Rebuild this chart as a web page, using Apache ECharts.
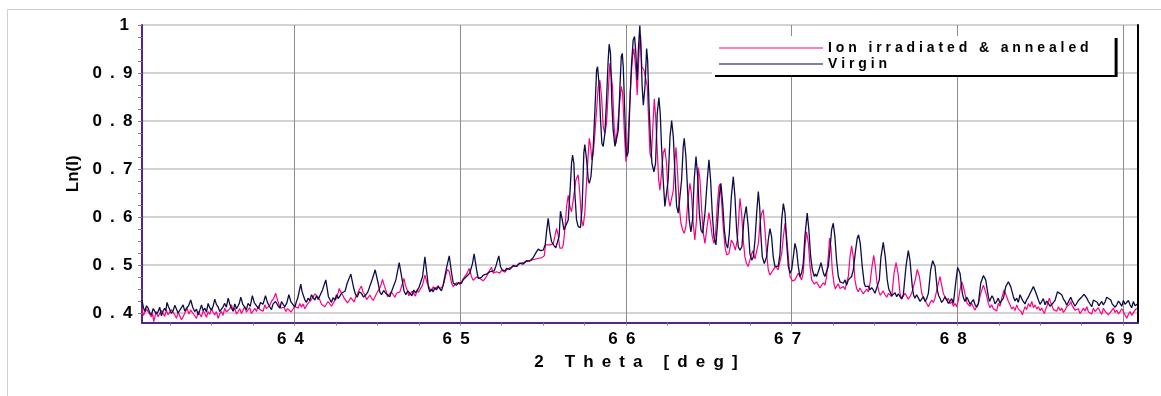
<!DOCTYPE html>
<html>
<head>
<meta charset="utf-8">
<script src="https://cdn.jsdelivr.net/npm/echarts@6/dist/echarts.min.js"></script>
<style>
html, body { margin: 0; padding: 0; background: #fff; }
#chart { width: 1161px; height: 396px; }
</style>
</head>
<body>
<div id="chart"></div>
<script>
const xTicks = [64, 65, 66, 67, 68, 69];
const yTicks = [0.4, 0.5, 0.6, 0.7, 0.8, 0.9, 1];
const xMinorTicks = [63.25, 63.5, 63.75, 64, 64.25, 64.5, 64.75, 65, 65.25, 65.5, 65.75, 66,
  66.25, 66.5, 66.75, 67, 67.25, 67.5, 67.75, 68, 68.25, 68.5, 68.75, 69];
const yMinorTicks = [0.4, 0.425, 0.45, 0.475, 0.5, 0.525, 0.55, 0.575, 0.6, 0.625, 0.65, 0.675,
  0.7, 0.725, 0.75, 0.775, 0.8, 0.825, 0.85, 0.875, 0.9, 0.925, 0.95, 0.975, 1];
const seriesNames = ["Ion irradiated & annealed", "Virgin"];

// [2 theta, Ln(I)]
const irradiated = [
  [63.080,0.410],[63.088,0.395],[63.097,0.399],[63.107,0.408],[63.117,0.403],[63.127,0.397],[63.137,0.392],[63.144,0.398],
  [63.151,0.382],[63.159,0.394],[63.167,0.403],[63.177,0.392],[63.187,0.396],[63.197,0.405],[63.207,0.399],[63.217,0.393],
  [63.227,0.406],[63.237,0.396],[63.247,0.399],[63.257,0.407],[63.268,0.403],[63.278,0.396],[63.288,0.389],[63.298,0.402],
  [63.308,0.399],[63.318,0.386],[63.328,0.392],[63.340,0.401],[63.352,0.410],[63.363,0.398],[63.374,0.406],[63.386,0.400],
  [63.398,0.396],[63.409,0.389],[63.419,0.403],[63.429,0.397],[63.439,0.392],[63.449,0.405],[63.459,0.399],[63.469,0.391],
  [63.479,0.403],[63.489,0.397],[63.499,0.410],[63.509,0.401],[63.519,0.396],[63.529,0.403],[63.539,0.389],[63.549,0.398],
  [63.559,0.403],[63.569,0.395],[63.579,0.410],[63.589,0.402],[63.600,0.403],[63.610,0.409],[63.620,0.417],[63.630,0.404],
  [63.640,0.410],[63.650,0.398],[63.660,0.403],[63.670,0.409],[63.680,0.399],[63.690,0.406],[63.700,0.413],[63.710,0.402],
  [63.720,0.406],[63.730,0.411],[63.740,0.399],[63.750,0.404],[63.761,0.410],[63.771,0.403],[63.781,0.415],[63.791,0.407],
  [63.801,0.410],[63.811,0.404],[63.821,0.417],[63.831,0.409],[63.841,0.410],[63.851,0.416],[63.861,0.424],[63.874,0.430],
  [63.887,0.441],[63.897,0.428],[63.907,0.417],[63.918,0.410],[63.928,0.406],[63.938,0.412],[63.948,0.403],[63.958,0.409],
  [63.968,0.413],[63.980,0.402],[63.992,0.406],[64.002,0.414],[64.012,0.417],[64.022,0.410],[64.032,0.420],[64.042,0.412],
  [64.052,0.419],[64.062,0.409],[64.072,0.413],[64.082,0.420],[64.093,0.424],[64.103,0.428],[64.113,0.434],[64.123,0.440],
  [64.133,0.444],[64.143,0.433],[64.153,0.427],[64.163,0.418],[64.173,0.422],[64.183,0.413],[64.193,0.417],[64.203,0.424],
  [64.213,0.419],[64.223,0.414],[64.233,0.420],[64.244,0.426],[64.254,0.431],[64.262,0.440],[64.270,0.451],[64.280,0.443],
  [64.290,0.438],[64.300,0.431],[64.310,0.427],[64.320,0.421],[64.330,0.426],[64.340,0.432],[64.350,0.428],[64.360,0.423],
  [64.370,0.434],[64.380,0.440],[64.390,0.448],[64.404,0.456],[64.414,0.443],[64.425,0.438],[64.435,0.428],[64.445,0.431],
  [64.455,0.437],[64.465,0.431],[64.475,0.426],[64.485,0.433],[64.495,0.440],[64.505,0.438],[64.519,0.455],[64.531,0.470],
  [64.541,0.458],[64.551,0.448],[64.561,0.434],[64.571,0.438],[64.584,0.444],[64.596,0.438],[64.606,0.433],[64.616,0.441],
  [64.626,0.437],[64.636,0.444],[64.652,0.462],[64.660,0.472],[64.670,0.457],[64.680,0.448],[64.690,0.436],[64.700,0.438],
  [64.710,0.445],[64.720,0.441],[64.730,0.435],[64.740,0.448],[64.748,0.443],[64.756,0.441],[64.773,0.458],[64.787,0.479],
  [64.801,0.462],[64.817,0.451],[64.827,0.446],[64.837,0.455],[64.847,0.449],[64.857,0.451],[64.867,0.457],[64.877,0.451],
  [64.887,0.448],[64.897,0.456],[64.913,0.479],[64.923,0.491],[64.934,0.486],[64.948,0.462],[64.958,0.455],[64.968,0.458],
  [64.978,0.463],[64.988,0.465],[64.998,0.460],[65.008,0.465],[65.018,0.471],[65.028,0.469],[65.042,0.483],[65.054,0.493],
  [65.068,0.476],[65.078,0.468],[65.088,0.470],[65.098,0.475],[65.109,0.472],[65.119,0.472],[65.129,0.476],[65.139,0.467],
  [65.149,0.471],[65.159,0.476],[65.179,0.490],[65.189,0.495],[65.199,0.483],[65.209,0.480],[65.219,0.486],[65.229,0.482],
  [65.239,0.483],[65.249,0.489],[65.259,0.488],[65.270,0.485],[65.280,0.490],[65.290,0.493],[65.300,0.494],[65.310,0.491],
  [65.320,0.497],[65.330,0.500],[65.340,0.497],[65.350,0.502],[65.360,0.500],[65.370,0.504],[65.380,0.502],[65.390,0.506],
  [65.400,0.503],[65.410,0.508],[65.420,0.507],[65.430,0.510],[65.441,0.509],[65.451,0.512],[65.461,0.510],[65.471,0.514],
  [65.481,0.512],[65.491,0.515],[65.501,0.513],[65.507,0.519],[65.515,0.542],[65.541,0.542],[65.561,0.544],[65.571,0.559],
  [65.581,0.576],[65.591,0.563],[65.601,0.535],[65.614,0.535],[65.622,0.542],[65.632,0.575],[65.642,0.622],[65.652,0.645],
  [65.662,0.622],[65.672,0.611],[65.682,0.635],[65.698,0.677],[65.712,0.688],[65.722,0.649],[65.732,0.594],[65.742,0.581],
  [65.752,0.608],[65.763,0.677],[65.773,0.733],[65.779,0.764],[65.787,0.747],[65.795,0.719],[65.803,0.733],[65.813,0.774],
  [65.823,0.823],[65.833,0.872],[65.843,0.885],[65.853,0.851],[65.863,0.788],[65.873,0.774],[65.883,0.795],[65.893,0.858],
  [65.903,0.920],[65.909,0.924],[65.919,0.872],[65.929,0.788],[65.940,0.753],[65.948,0.781],[65.960,0.830],[65.972,0.872],
  [65.980,0.858],[65.990,0.781],[66.000,0.715],[66.010,0.747],[66.020,0.816],[66.030,0.885],[66.040,0.934],[66.048,0.951],
  [66.060,0.906],[66.068,0.854],[66.080,0.948],[66.088,0.979],[66.096,0.913],[66.109,0.906],[66.121,0.903],[66.129,0.872],
  [66.137,0.802],[66.145,0.733],[66.153,0.722],[66.163,0.790],[66.171,0.846],[66.179,0.810],[66.189,0.740],[66.197,0.680],
  [66.205,0.656],[66.215,0.691],[66.225,0.733],[66.235,0.743],[66.245,0.712],[66.255,0.642],[66.266,0.622],[66.276,0.625],
  [66.286,0.656],[66.294,0.710],[66.302,0.745],[66.312,0.690],[66.322,0.622],[66.332,0.587],[66.342,0.573],[66.352,0.566],
  [66.362,0.580],[66.376,0.642],[66.386,0.670],[66.396,0.646],[66.406,0.587],[66.416,0.552],[66.426,0.594],[66.437,0.703],
  [66.447,0.677],[66.457,0.615],[66.467,0.566],[66.477,0.545],[66.487,0.573],[66.501,0.609],[66.511,0.587],[66.521,0.559],
  [66.531,0.545],[66.541,0.566],[66.551,0.622],[66.561,0.663],[66.567,0.669],[66.577,0.635],[66.587,0.580],[66.598,0.538],
  [66.608,0.521],[66.622,0.524],[66.636,0.552],[66.648,0.545],[66.660,0.531],[66.672,0.552],[66.680,0.594],[66.688,0.639],
  [66.698,0.608],[66.708,0.552],[66.718,0.517],[66.728,0.503],[66.738,0.497],[66.748,0.510],[66.765,0.530],[66.779,0.513],
  [66.799,0.545],[66.809,0.587],[66.819,0.608],[66.829,0.615],[66.839,0.573],[66.849,0.524],[66.859,0.490],[66.869,0.479],
  [66.879,0.476],[66.889,0.490],[66.903,0.497],[66.919,0.490],[66.930,0.490],[66.940,0.524],[66.950,0.559],[66.960,0.587],
  [66.970,0.559],[66.980,0.517],[66.990,0.476],[67.004,0.467],[67.020,0.469],[67.030,0.472],[67.040,0.483],[67.050,0.476],
  [67.060,0.469],[67.070,0.483],[67.080,0.538],[67.090,0.569],[67.101,0.545],[67.111,0.497],[67.121,0.469],[67.137,0.460],
  [67.149,0.465],[67.161,0.458],[67.171,0.452],[67.181,0.458],[67.191,0.463],[67.201,0.458],[67.211,0.476],[67.221,0.517],
  [67.229,0.556],[67.237,0.538],[67.245,0.490],[67.257,0.458],[67.264,0.450],[67.271,0.455],[67.281,0.461],[67.292,0.451],
  [67.302,0.447],[67.312,0.455],[67.322,0.449],[67.332,0.451],[67.342,0.476],[67.352,0.517],[67.362,0.540],[67.372,0.517],
  [67.382,0.469],[67.392,0.451],[67.402,0.444],[67.412,0.452],[67.422,0.448],[67.432,0.440],[67.443,0.444],[67.453,0.450],
  [67.463,0.444],[67.473,0.462],[67.485,0.497],[67.495,0.520],[67.505,0.497],[67.515,0.462],[67.527,0.444],[67.535,0.437],
  [67.543,0.441],[67.553,0.446],[67.563,0.438],[67.574,0.433],[67.584,0.441],[67.594,0.437],[67.604,0.434],[67.618,0.483],
  [67.630,0.505],[67.642,0.483],[67.654,0.441],[67.664,0.430],[67.674,0.434],[67.684,0.441],[67.694,0.438],[67.704,0.429],
  [67.714,0.434],[67.724,0.441],[67.734,0.438],[67.746,0.469],[67.758,0.491],[67.771,0.476],[67.785,0.441],[67.795,0.432],
  [67.805,0.427],[67.815,0.420],[67.825,0.413],[67.835,0.421],[67.845,0.427],[67.855,0.422],[67.865,0.431],[67.881,0.455],
  [67.895,0.476],[67.907,0.455],[67.916,0.440],[67.925,0.434],[67.935,0.426],[67.946,0.431],[67.956,0.419],[67.966,0.424],
  [67.976,0.414],[67.986,0.420],[67.996,0.413],[68.006,0.427],[68.016,0.448],[68.026,0.465],[68.036,0.455],[68.052,0.431],
  [68.059,0.420],[68.066,0.424],[68.076,0.414],[68.087,0.420],[68.097,0.412],[68.107,0.406],[68.117,0.415],[68.127,0.420],
  [68.141,0.441],[68.157,0.458],[68.173,0.441],[68.187,0.420],[68.197,0.411],[68.207,0.417],[68.217,0.409],[68.227,0.413],
  [68.237,0.404],[68.247,0.420],[68.257,0.414],[68.268,0.431],[68.282,0.448],[68.298,0.434],[68.308,0.424],[68.318,0.417],
  [68.328,0.408],[68.338,0.413],[68.348,0.405],[68.358,0.417],[68.368,0.408],[68.378,0.410],[68.385,0.403],[68.392,0.396],
  [68.400,0.405],[68.408,0.413],[68.418,0.407],[68.429,0.420],[68.439,0.413],[68.449,0.424],[68.459,0.411],[68.469,0.417],
  [68.479,0.408],[68.489,0.413],[68.499,0.405],[68.509,0.410],[68.517,0.404],[68.525,0.399],[68.532,0.407],[68.539,0.413],
  [68.547,0.422],[68.555,0.431],[68.562,0.423],[68.569,0.417],[68.580,0.407],[68.590,0.410],[68.600,0.404],[68.610,0.413],
  [68.620,0.405],[68.630,0.410],[68.640,0.401],[68.650,0.406],[68.660,0.413],[68.670,0.413],[68.677,0.418],[68.684,0.424],
  [68.692,0.416],[68.700,0.413],[68.710,0.406],[68.720,0.403],[68.730,0.409],[68.740,0.399],[68.750,0.404],[68.761,0.410],
  [68.771,0.404],[68.781,0.413],[68.791,0.402],[68.801,0.406],[68.811,0.398],[68.821,0.410],[68.831,0.403],[68.841,0.406],
  [68.851,0.411],[68.861,0.403],[68.871,0.397],[68.881,0.410],[68.891,0.404],[68.901,0.403],[68.911,0.396],[68.921,0.399],
  [68.931,0.405],[68.942,0.410],[68.952,0.401],[68.962,0.406],[68.972,0.398],[68.982,0.403],[68.992,0.409],[69.002,0.403],
  [69.012,0.396],[69.022,0.389],[69.032,0.397],[69.042,0.403],[69.052,0.395],[69.062,0.399],[69.072,0.406],[69.082,0.410]
];

const virgin = [
  [63.080,0.427],[63.088,0.412],[63.097,0.403],[63.107,0.415],[63.117,0.410],[63.127,0.401],[63.137,0.396],[63.147,0.409],
  [63.157,0.413],[63.167,0.398],[63.177,0.403],[63.187,0.412],[63.197,0.394],[63.207,0.404],[63.217,0.410],[63.224,0.405],
  [63.231,0.422],[63.239,0.414],[63.247,0.410],[63.257,0.399],[63.268,0.405],[63.278,0.416],[63.288,0.413],[63.298,0.400],
  [63.308,0.403],[63.318,0.411],[63.328,0.417],[63.338,0.404],[63.348,0.410],[63.361,0.415],[63.374,0.427],[63.386,0.412],
  [63.398,0.403],[63.409,0.408],[63.419,0.396],[63.429,0.406],[63.439,0.417],[63.449,0.405],[63.459,0.410],[63.469,0.402],
  [63.479,0.420],[63.489,0.411],[63.499,0.406],[63.509,0.414],[63.519,0.429],[63.529,0.418],[63.539,0.413],[63.549,0.403],
  [63.559,0.406],[63.569,0.413],[63.579,0.420],[63.589,0.412],[63.600,0.431],[63.610,0.418],[63.620,0.410],[63.630,0.404],
  [63.640,0.419],[63.650,0.409],[63.660,0.415],[63.668,0.421],[63.676,0.433],[63.688,0.418],[63.700,0.412],[63.710,0.407],
  [63.720,0.420],[63.733,0.414],[63.746,0.436],[63.758,0.421],[63.771,0.415],[63.783,0.409],[63.795,0.422],[63.810,0.418],
  [63.825,0.436],[63.838,0.421],[63.851,0.413],[63.861,0.407],[63.871,0.419],[63.886,0.424],[63.901,0.415],[63.912,0.410],
  [63.922,0.424],[63.932,0.418],[63.942,0.413],[63.954,0.421],[63.966,0.438],[63.979,0.423],[63.992,0.417],[64.002,0.412],
  [64.012,0.424],[64.019,0.430],[64.026,0.441],[64.038,0.460],[64.045,0.446],[64.052,0.438],[64.062,0.428],[64.072,0.422],
  [64.082,0.431],[64.092,0.426],[64.103,0.438],[64.113,0.432],[64.123,0.427],[64.133,0.436],[64.143,0.428],[64.153,0.431],
  [64.169,0.448],[64.189,0.469],[64.205,0.434],[64.214,0.428],[64.223,0.422],[64.233,0.432],[64.244,0.427],[64.254,0.438],
  [64.264,0.430],[64.274,0.434],[64.284,0.441],[64.294,0.438],[64.306,0.446],[64.318,0.462],[64.340,0.481],[64.358,0.451],
  [64.368,0.439],[64.378,0.433],[64.391,0.444],[64.404,0.441],[64.417,0.433],[64.431,0.438],[64.443,0.444],[64.455,0.448],
  [64.471,0.472],[64.487,0.490],[64.505,0.462],[64.515,0.444],[64.525,0.438],[64.538,0.447],[64.551,0.441],[64.563,0.437],
  [64.575,0.434],[64.586,0.445],[64.596,0.441],[64.612,0.469],[64.632,0.505],[64.650,0.469],[64.661,0.446],[64.672,0.438],
  [64.684,0.446],[64.696,0.441],[64.708,0.436],[64.720,0.448],[64.730,0.442],[64.740,0.444],[64.751,0.453],[64.761,0.451],
  [64.773,0.476],[64.787,0.517],[64.801,0.476],[64.809,0.452],[64.817,0.444],[64.827,0.450],[64.837,0.444],[64.847,0.453],
  [64.857,0.448],[64.867,0.455],[64.877,0.451],[64.887,0.446],[64.897,0.458],[64.917,0.493],[64.934,0.519],[64.948,0.483],
  [64.958,0.462],[64.968,0.466],[64.978,0.458],[64.988,0.463],[64.998,0.465],[65.008,0.462],[65.018,0.469],[65.028,0.472],
  [65.038,0.476],[65.048,0.474],[65.058,0.483],[65.074,0.503],[65.084,0.523],[65.099,0.490],[65.109,0.472],[65.119,0.476],
  [65.129,0.474],[65.139,0.479],[65.149,0.477],[65.159,0.481],[65.169,0.479],[65.179,0.486],[65.189,0.484],[65.205,0.488],
  [65.215,0.497],[65.233,0.519],[65.243,0.497],[65.253,0.490],[65.261,0.486],[65.270,0.488],[65.280,0.493],[65.290,0.496],
  [65.300,0.491],[65.310,0.494],[65.320,0.499],[65.330,0.501],[65.340,0.497],[65.350,0.499],[65.360,0.504],[65.370,0.506],
  [65.380,0.502],[65.390,0.504],[65.400,0.509],[65.410,0.512],[65.420,0.508],[65.430,0.510],[65.440,0.515],[65.451,0.516],
  [65.461,0.528],[65.471,0.533],[65.485,0.530],[65.501,0.531],[65.513,0.542],[65.521,0.569],[65.531,0.597],[65.541,0.569],
  [65.551,0.549],[65.565,0.541],[65.577,0.536],[65.589,0.538],[65.597,0.560],[65.605,0.612],[65.616,0.594],[65.626,0.573],
  [65.638,0.576],[65.652,0.594],[65.662,0.649],[65.672,0.712],[65.678,0.729],[65.686,0.712],[65.692,0.649],[65.702,0.594],
  [65.712,0.580],[65.726,0.578],[65.736,0.622],[65.746,0.733],[65.752,0.751],[65.763,0.719],[65.773,0.677],[65.779,0.670],
  [65.789,0.684],[65.803,0.747],[65.813,0.823],[65.823,0.906],[65.829,0.913],[65.839,0.872],[65.847,0.802],[65.855,0.753],
  [65.863,0.747],[65.873,0.774],[65.883,0.844],[65.893,0.927],[65.899,0.960],[65.907,0.941],[65.915,0.837],[65.923,0.781],
  [65.934,0.747],[65.944,0.743],[65.954,0.781],[65.964,0.872],[65.972,0.934],[65.978,0.941],[65.984,0.913],[65.992,0.830],
  [66.000,0.747],[66.006,0.726],[66.014,0.736],[66.024,0.837],[66.034,0.920],[66.044,0.969],[66.052,0.976],[66.060,0.941],
  [66.068,0.885],[66.076,0.955],[66.084,0.999],[66.090,0.955],[66.098,0.872],[66.105,0.833],[66.115,0.872],[66.125,0.951],
  [66.131,0.927],[66.139,0.837],[66.147,0.770],[66.157,0.712],[66.169,0.694],[66.179,0.712],[66.189,0.816],[66.199,0.849],
  [66.207,0.816],[66.215,0.747],[66.225,0.677],[66.235,0.622],[66.245,0.622],[66.255,0.677],[66.266,0.767],[66.276,0.801],
  [66.286,0.767],[66.296,0.691],[66.306,0.622],[66.316,0.608],[66.326,0.608],[66.336,0.677],[66.346,0.747],[66.352,0.764],
  [66.362,0.726],[66.372,0.656],[66.382,0.594],[66.392,0.569],[66.402,0.594],[66.412,0.677],[66.423,0.726],[66.433,0.684],
  [66.443,0.608],[66.453,0.573],[66.463,0.566],[66.477,0.608],[66.491,0.677],[66.501,0.719],[66.511,0.677],[66.521,0.608],
  [66.531,0.559],[66.543,0.542],[66.553,0.587],[66.563,0.642],[66.573,0.670],[66.584,0.628],[66.594,0.573],[66.604,0.545],
  [66.614,0.535],[66.624,0.566],[66.636,0.642],[66.648,0.684],[66.658,0.642],[66.668,0.573],[66.678,0.538],[66.688,0.531],
  [66.700,0.538],[66.712,0.594],[66.726,0.622],[66.738,0.580],[66.748,0.524],[66.759,0.510],[66.769,0.517],[66.779,0.552],
  [66.789,0.608],[66.799,0.653],[66.807,0.622],[66.815,0.559],[66.823,0.517],[66.835,0.503],[66.849,0.517],[66.859,0.552],
  [66.869,0.576],[66.879,0.559],[66.889,0.517],[66.899,0.497],[66.909,0.493],[66.919,0.497],[66.930,0.524],[66.940,0.594],
  [66.950,0.628],[66.960,0.608],[66.970,0.545],[66.980,0.497],[66.990,0.483],[67.000,0.490],[67.010,0.517],[67.020,0.545],
  [67.030,0.531],[67.040,0.497],[67.050,0.476],[67.060,0.483],[67.070,0.503],[67.080,0.559],[67.094,0.608],[67.104,0.573],
  [67.115,0.517],[67.125,0.490],[67.137,0.476],[67.144,0.481],[67.151,0.476],[67.158,0.483],[67.165,0.490],[67.177,0.505],
  [67.187,0.490],[67.194,0.481],[67.201,0.476],[67.211,0.479],[67.221,0.497],[67.231,0.531],[67.241,0.573],[67.251,0.587],
  [67.261,0.559],[67.271,0.510],[67.282,0.476],[67.292,0.465],[67.302,0.469],[67.312,0.462],[67.322,0.469],[67.332,0.458],
  [67.342,0.469],[67.352,0.469],[67.362,0.476],[67.372,0.490],[67.386,0.531],[67.396,0.556],[67.404,0.563],[67.414,0.545],
  [67.426,0.497],[67.438,0.462],[67.445,0.455],[67.453,0.451],[67.463,0.456],[67.473,0.448],[67.483,0.453],[67.493,0.448],
  [67.503,0.441],[67.513,0.444],[67.529,0.469],[67.539,0.517],[67.553,0.547],[67.565,0.517],[67.577,0.469],[67.586,0.450],
  [67.594,0.444],[67.604,0.436],[67.614,0.438],[67.624,0.442],[67.634,0.434],[67.644,0.440],[67.654,0.434],[67.664,0.429],
  [67.674,0.438],[67.690,0.497],[67.704,0.530],[67.714,0.510],[67.728,0.455],[67.736,0.437],[67.744,0.431],[67.754,0.438],
  [67.765,0.431],[67.775,0.424],[67.785,0.427],[67.795,0.434],[67.805,0.424],[67.815,0.430],[67.825,0.441],[67.839,0.490],
  [67.851,0.509],[67.865,0.497],[67.879,0.448],[67.887,0.436],[67.895,0.431],[67.905,0.422],[67.915,0.427],[67.926,0.434],
  [67.936,0.427],[67.946,0.420],[67.956,0.424],[67.966,0.430],[67.976,0.420],[67.992,0.469],[68.002,0.495],[68.016,0.483],
  [68.030,0.441],[68.038,0.430],[68.046,0.424],[68.056,0.433],[68.066,0.427],[68.076,0.418],[68.087,0.420],[68.097,0.428],
  [68.107,0.417],[68.117,0.412],[68.127,0.420],[68.141,0.462],[68.157,0.478],[68.171,0.469],[68.187,0.434],[68.194,0.424],
  [68.201,0.427],[68.209,0.436],[68.217,0.431],[68.227,0.419],[68.237,0.424],[68.247,0.431],[68.257,0.420],[68.267,0.426],
  [68.278,0.431],[68.292,0.455],[68.308,0.465],[68.322,0.455],[68.338,0.434],[68.348,0.425],[68.358,0.431],[68.368,0.422],
  [68.378,0.438],[68.388,0.430],[68.398,0.424],[68.408,0.419],[68.418,0.427],[68.428,0.433],[68.439,0.441],[68.459,0.455],
  [68.475,0.441],[68.489,0.427],[68.499,0.418],[68.509,0.424],[68.519,0.430],[68.529,0.417],[68.539,0.425],[68.549,0.420],
  [68.559,0.414],[68.569,0.417],[68.580,0.422],[68.590,0.427],[68.604,0.444],[68.616,0.447],[68.630,0.438],[68.640,0.429],
  [68.650,0.424],[68.660,0.416],[68.670,0.417],[68.684,0.433],[68.692,0.426],[68.700,0.422],[68.710,0.414],[68.720,0.417],
  [68.730,0.426],[68.740,0.424],[68.752,0.434],[68.765,0.439],[68.781,0.431],[68.791,0.424],[68.801,0.420],[68.811,0.413],
  [68.821,0.427],[68.831,0.431],[68.845,0.422],[68.853,0.415],[68.861,0.417],[68.871,0.424],[68.881,0.417],[68.891,0.423],
  [68.901,0.433],[68.911,0.436],[68.926,0.427],[68.934,0.419],[68.942,0.420],[68.952,0.412],[68.962,0.417],[68.972,0.425],
  [68.982,0.420],[68.992,0.414],[69.002,0.426],[69.012,0.418],[69.022,0.420],[69.032,0.426],[69.042,0.417],[69.052,0.411],
  [69.062,0.424],[69.072,0.415],[69.082,0.417],[69.092,0.420]
];

const FONT = "Arial, 'Liberation Sans', sans-serif";
const PURPLE = "#4f2591";
const PINK = "#ff0080";
const NAVY = "#0c0c4a";

// old Excel export: every character is followed by extra spacing
function spaced(s, sep) {
  return s.split("").join(sep) + sep;
}

const gridRect = { left: 142, right: 23, top: 25, height: 297.6 };

const option = {
  animation: false,
  backgroundColor: "#fff",
  textStyle: { fontFamily: FONT },
  grid: [
    Object.assign({ containLabel: false, outerBoundsMode: "none" }, gridRect),
    Object.assign({ containLabel: false, outerBoundsMode: "none" }, gridRect)
  ],
  graphic: [{
    type: "rect",
    shape: { x: 7.5, y: 9.5, width: 1200, height: 500 },
    style: { fill: "none", stroke: "#cfcfcf", lineWidth: 1 },
    silent: true,
    z: -10
  }],
  legend: {
    orient: "vertical",
    left: 712,
    top: 36,
    itemWidth: 104,
    itemHeight: 14,
    itemGap: 2,
    padding: [5, 26, 4, 6],
    backgroundColor: "#fff",
    shadowColor: "#000",
    shadowBlur: 0,
    shadowOffsetX: 3,
    shadowOffsetY: 2,
    selectedMode: false,
    itemStyle: { color: "rgba(0,0,0,0)", borderWidth: 0, opacity: 0 },
    data: [
      { name: seriesNames[0], lineStyle: { color: PINK, width: 1 } },
      { name: seriesNames[1], lineStyle: { color: "#7c80a8", width: 2 } }
    ],
    formatter: name => name.split("").join(" "),
    textStyle: { fontFamily: FONT, fontSize: 14, fontWeight: "bold", color: "#000" }
  },
  xAxis: [{
    type: "value",
    gridIndex: 0,
    min: 63.08,
    max: 69.09,
    position: "bottom",
    axisLine: { onZero: false, lineStyle: { color: PURPLE, width: 2 } },
    axisTick: { show: false, customValues: xTicks },
    axisLabel: {
      customValues: xTicks,
      margin: 8,
      color: "#000",
      fontFamily: FONT,
      fontSize: 17,
      fontWeight: "bold",
      formatter: v => spaced(String(v), " \u2009")
    },
    splitLine: { show: true, lineStyle: { color: "#8c8c8c", width: 1 } },
    name: spaced("2 Theta [deg]", " \u2009"),
    nameLocation: "middle",
    nameGap: 31,
    nameTextStyle: { color: "#000", fontFamily: FONT, fontSize: 17, fontWeight: "bold" }
  }, {
    type: "value",
    gridIndex: 1,
    min: 63.08,
    max: 69.09,
    position: "bottom",
    axisLine: { show: false, onZero: false },
    axisTick: { show: true, customValues: xMinorTicks, length: 3, lineStyle: { color: "#808080" } },
    axisLabel: { show: false },
    splitLine: { show: false }
  }],
  yAxis: [{
    type: "value",
    gridIndex: 0,
    min: 0.38,
    max: 1,
    position: "left",
    axisLine: { onZero: false, lineStyle: { color: PURPLE, width: 2 } },
    axisTick: { show: false, customValues: yTicks },
    axisLabel: {
      customValues: yTicks,
      margin: 1.5,
      color: "#000",
      fontFamily: FONT,
      fontSize: 17,
      fontWeight: "bold",
      formatter: v => {
        const s = String(+v.toFixed(1));
        // the lone "1" sits a little further left in the original
        return spaced(s, " \u2009") + (s.length === 1 ? "\u2009" : "");
      }
    },
    splitLine: { show: true, lineStyle: { color: "#c4c4c4", width: 1.5 } },
    name: "Ln(I)",
    nameLocation: "middle",
    nameRotate: 90,
    nameGap: 60,
    nameTextStyle: { color: "#000", fontFamily: FONT, fontSize: 17, fontWeight: "bold" }
  }, {
    type: "value",
    gridIndex: 0,
    min: 0.38,
    max: 1,
    position: "right",
    axisLine: { show: true, onZero: false, lineStyle: { color: "#000", width: 2 } },
    axisTick: { show: false },
    axisLabel: { show: false },
    splitLine: { show: false }
  }, {
    type: "value",
    gridIndex: 1,
    min: 0.38,
    max: 1,
    position: "left",
    axisLine: { show: false, onZero: false },
    axisTick: { show: true, customValues: yMinorTicks, length: 4, lineStyle: { color: "#808080" } },
    axisLabel: { show: false },
    splitLine: { show: false }
  }],
  series: [{
    name: seriesNames[0],
    type: "line",
    xAxisIndex: 0,
    yAxisIndex: 0,
    data: irradiated,
    symbol: "none",
    showSymbol: false,
    color: PINK,
    lineStyle: { color: PINK, width: 1.2 },
    z: 2
  }, {
    name: seriesNames[1],
    type: "line",
    xAxisIndex: 0,
    yAxisIndex: 0,
    data: virgin,
    symbol: "none",
    showSymbol: false,
    color: NAVY,
    lineStyle: { color: NAVY, width: 1.3 },
    z: 3
  }]
};

const chart = echarts.init(document.getElementById("chart"));
chart.setOption(option);
</script>
</body>
</html>
